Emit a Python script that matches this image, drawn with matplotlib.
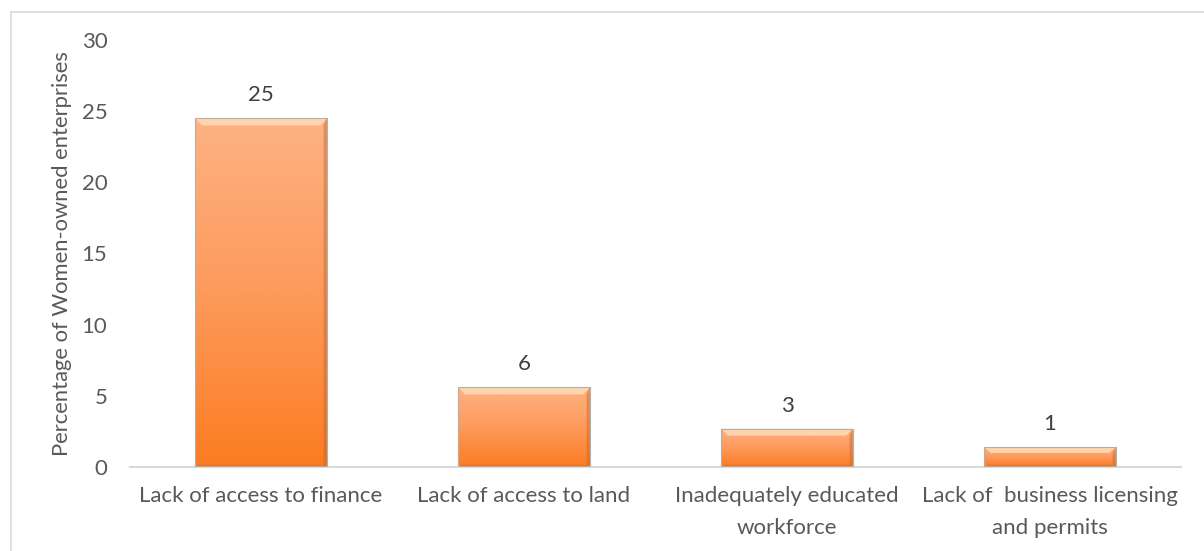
"""Bar chart: obstacles reported by women-owned enterprises."""

import matplotlib

matplotlib.use("Agg")
import numpy as np
from matplotlib import pyplot as plt
from matplotlib.colors import LinearSegmentedColormap
from matplotlib.patches import Rectangle

categories = [
    "Lack of access to finance",
    "Lack of access to land",
    "Inadequately educated\nworkforce",
    "Lack of  business licensing\nand permits",
]
values = [24.5, 5.6, 2.7, 1.4]
value_labels = ["25", "6", "3", "1"]
y_ticks = [0, 5, 10, 15, 20, 25, 30]

TEXT = "#595959"
plt.rcParams["font.family"] = ["Lato", "DejaVu Sans"]


def main() -> None:
    fig = plt.figure(figsize=(12.04, 5.51), dpi=100)
    ax = fig.add_axes([0.1076, 0.1525, 0.8737, 0.7749])

    # outer chart border (extends past right and bottom edges)
    fig.patches.append(Rectangle((11 / 1204, -0.1), 1.2, 1 - 12 / 551 + 0.1,
                                 transform=fig.transFigure, fill=False,
                                 edgecolor="#d9d9d9", linewidth=1.2))

    x = np.arange(len(categories))
    bars = ax.bar(x, values, width=0.5, color="#fc8a3d", edgecolor="#b86a3a",
                  linewidth=0.6, zorder=2)

    cmap = LinearSegmentedColormap.from_list("orange", ["#fc7c22", "#fd9a5c", "#fdb283"])
    grad = np.linspace(0, 1, 256).reshape(-1, 1)
    for bar in bars:
        x0, w, h = bar.get_x(), bar.get_width(), bar.get_height()
        im = ax.imshow(grad, cmap=cmap, origin="lower", aspect="auto",
                       extent=(x0, x0 + w, 0, h), zorder=2.5)
        im.set_clip_path(bar)
        # bevel highlight at top, darker thin edges at sides/bottom
        bh = min(0.5, h * 0.3)
        ax.fill([x0, x0 + w, x0 + w - 0.025, x0 + 0.025],
                [h, h, h - bh, h - bh], color="#ffdcb8", alpha=0.85,
                linewidth=0, zorder=2.6)
        ax.fill([x0 + w, x0 + w - 0.012, x0 + w - 0.012, x0 + w],
                [0, 0.15, h - bh, h], color="#c8621e", alpha=0.45, linewidth=0, zorder=2.6)
        ax.fill([x0, x0 + w, x0 + w - 0.012, x0 + 0.012],
                [0, 0, 0.15, 0.15], color="#c8621e", alpha=0.45, linewidth=0, zorder=2.6)
        ax.add_patch(Rectangle((x0, 0), w, h, fill=False, edgecolor="#b0b0b0",
                               linewidth=0.8, zorder=2.7))

    for xi, v, lab in zip(x, values, value_labels):
        ax.text(xi, v + 0.9, lab, ha="center", va="bottom", fontsize=16, color="#404040")

    ax.set_xlim(-0.5, len(categories) - 0.5)
    ax.set_ylim(0, 30)
    ax.set_yticks(y_ticks)
    ax.set_xticks(x)
    ax.set_xticklabels(categories, fontsize=16, color=TEXT, linespacing=1.7)
    ax.tick_params(axis="y", labelsize=16, labelcolor=TEXT, length=0, pad=16)
    ax.tick_params(axis="x", length=0, pad=14)
    ax.set_ylabel("Percentage of Women-owned enterprises", fontsize=15.8, color=TEXT,
                  labelpad=7)

    for side in ("top", "right", "left"):
        ax.spines[side].set_visible(False)
    ax.spines["bottom"].set_color("#d9d9d9")
    ax.spines["bottom"].set_linewidth(1.5)

    fig.savefig("out.png", dpi=100)
    plt.close(fig)


if __name__ == "__main__":
    main()
